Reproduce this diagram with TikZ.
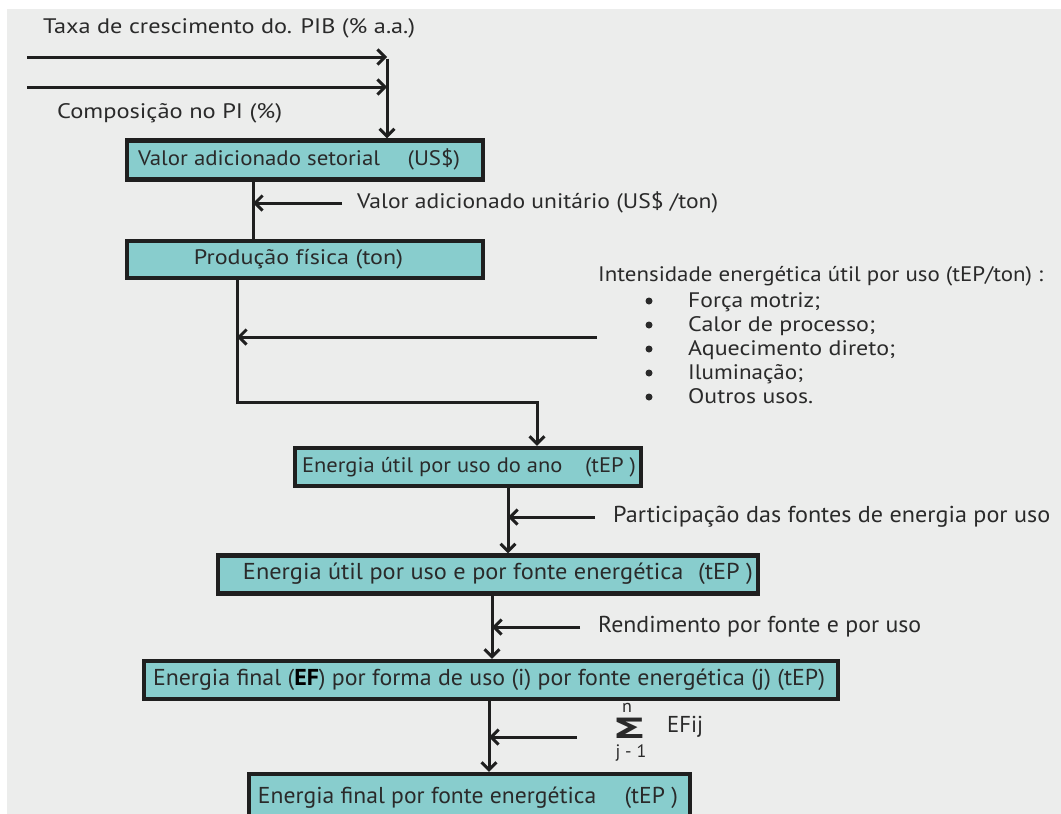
\documentclass[tikz,border=0pt]{standalone}
\usepackage{fontspec}
\setmainfont{PT Sans}
\newfontfamily\symfont{DejaVu Sans}
\usetikzlibrary{arrows.meta}
\definecolor{pagebg}{HTML}{ECEDEC}
\definecolor{boxfill}{HTML}{88CDCD}
\definecolor{ink}{HTML}{2A2A2A}
% stretch or squeeze a text horizontally to a given width (pt), height kept
\newcommand\fitx[2]{\resizebox{#1pt}{\height}{#2}}
% text inside a box, moved sideways by half of #1
\newcommand\boxtext[3]{\hspace*{#1pt}\fitx{#2}{#3}}
\begin{document}
\begin{tikzpicture}[x=1pt,y=-1pt,
  font=\fontsize{21}{24}\selectfont, text=ink,
  tall/.style={font=\fontsize{23}{26}\selectfont},
  box/.style={draw=black!88, line width=4.2pt, fill=boxfill, inner sep=0pt,
    text height=15pt, text depth=5pt},
  lbl/.style={inner sep=0pt, anchor=west, text height=15pt, text depth=5pt},
  dot/.style={circle, fill=ink, inner sep=0pt, minimum size=7pt},
  flow/.style={draw=black!88, line width=3pt},
  arr/.style={flow, -{Straight Barb[length=7.5pt,width=15pt]}}]

\useasboundingbox (0,0) rectangle (1061,814);
\fill[white] (0,0) rectangle (1061,814);
\fill[pagebg] (7,9) rectangle (1061,814);

% boxes
\node[box, minimum width=356, minimum height=39] (b1) at (305,160)
  {\boxtext{-12}{322}{Valor adicionado setorial\hspace{1.2em}(US\$)}};
\node[box, minimum width=356, minimum height=37] (b2) at (305,259.5)
  {\boxtext{-13}{209}{Produção física (ton)}};
\node[box, minimum width=346, minimum height=38] (b3) at (468,467)
  {\boxtext{2}{334}{Energia útil por uso do ano\hspace{1em}(tEP )}};
\node[box, tall, minimum width=540, minimum height=38] (b4) at (488,574.5)
  {\boxtext{20}{510}{Energia útil por uso e por fonte energética\hspace{0.6em}(tEP )}};
\node[box, tall, minimum width=694, minimum height=38] (b5) at (491,680)
  {\boxtext{-4}{672}{Energia final (\textcolor{black}{\bfseries EF}) por forma de uso (i) por fonte energética (j) (tEP)}};
\node[box, tall, minimum width=441, minimum height=48] (b6) at (469.5,798)
  {\boxtext{-3}{420}{Energia final por fonte energética\hspace{1.2em}(tEP )}};

% labels
\node[lbl] (taxa) at (43,28) {\fitx{372}{Taxa de crescimento do. PIB (\% a.a.)}};
\node[lbl] (comp) at (57,113) {\fitx{225}{Composição no PI (\%)}};
\node[lbl] (vau) at (357,203) {\fitx{361}{Valor adicionado unitário (US\$ /ton)}};
\node[lbl] (int) at (598,276) {\fitx{445}{Intensidade energética útil por uso (tEP/ton) :}};
\foreach \t/\w/\y [count=\i] in {Força motriz;/132/302, Calor de processo;/187/326,
    Aquecimento direto;/207/350, Iluminação;/115/374, Outros usos./125/398}{
  \node[dot] (bul\i) at (649,\y-1) {};
  \node[lbl] (use\i) at (688,\y) {\fitx{\w}{\t}};
}
\node[lbl, tall] (part) at (613,517) {\fitx{437}{Participação das fontes de energia por uso}};
\node[lbl, tall] (rend) at (598,627) {\fitx{323}{Rendimento por fonte e por uso}};
\node[inner sep=0pt, text height=21pt, text depth=0pt] (sig) at (629,728)
  {\fitx{34}{\symfont\bfseries\fontsize{28}{28}\selectfont Σ}};
\node[inner sep=0pt, font=\fontsize{18}{18}\selectfont, text height=9pt, text depth=0pt] (sup) at (627,708) {n};
\node[inner sep=0pt, font=\fontsize{18}{18}\selectfont] (sub) at (631,753) {j - 1};
\node[lbl, tall] (efij) at (667,727) {\fitx{36}{EFij}};

% input arrows at the top
\coordinate (in1) at (27,57);
\coordinate (in2) at (27,87);
\coordinate (j1) at (387,57);
\coordinate (j2) at (387,87);
\draw[arr] (in1) -- (j1);
\draw[arr] (in2) -- (j2);
\draw[arr] ([yshift=-1.5pt]j1) -- (j1 |- b1.north);

% from setorial value to physical production
\coordinate (c1) at (253,0);
\draw[flow] (c1 |- b1.south) -- (c1 |- b2.north);
\coordinate (s1) at (342,203);
\draw[arr] (s1) -- (s1 -| c1);

% from physical production to useful energy
\coordinate (c2) at (237,402);
\coordinate (c3) at (537,402);
\draw[arr] (c2 |- b2.south) -- (c2) -- (c3) -- (c3 |- b3.north);
\coordinate (s2) at (597,337);
\draw[arr] (s2) -- (s2 -| c2);

\coordinate (c4) at (508,0);
\draw[arr] (c4 |- b3.south) -- (c4 |- b4.north);
\coordinate (s3) at (595,517);
\draw[arr] (s3) -- (s3 -| c4);

\coordinate (c5) at (492,0);
\draw[arr] (c5 |- b4.south) -- (c5 |- b5.north);
\coordinate (s4) at (580,627);
\draw[arr] (s4) -- (s4 -| c5);

\coordinate (c6) at (489,0);
\draw[arr] (c6 |- b5.south) -- (c6 |- b6.north);
\coordinate (s5) at (577,737);
\draw[arr] (s5) -- (s5 -| c6);
\end{tikzpicture}
\end{document}
